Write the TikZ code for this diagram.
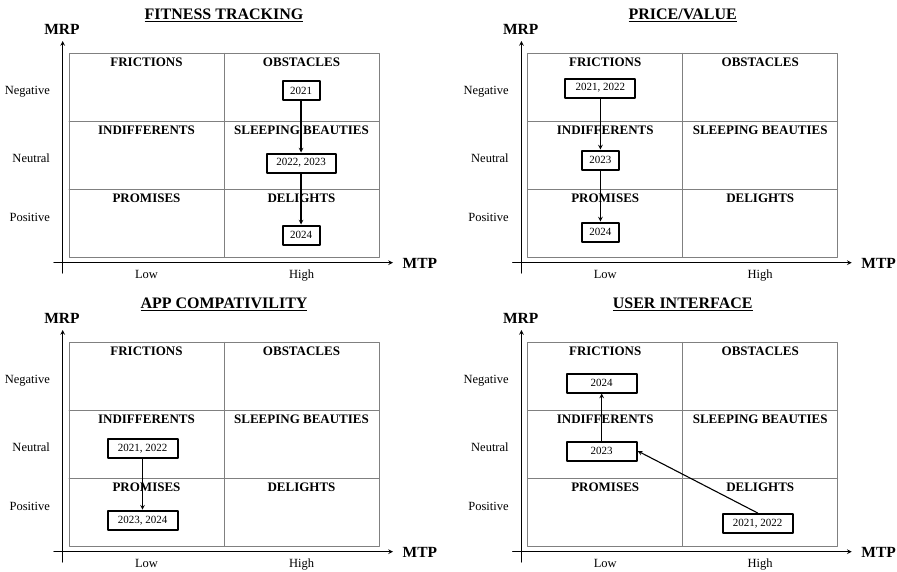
\documentclass[tikz,border=0pt]{standalone}
\usepackage{fontspec}
\setmainfont{Liberation Serif}
\usetikzlibrary{positioning}
% one MRP/MTP quadrant panel: #1 prefix, #2/#3 top left of the grid, #4 title
\newcommand{\quadpanel}[4]{%
	\begin{scope}[shift={(#2,#3)}]
		\draw[gridline] (0,0) rectangle (310,204);
		\draw[gridline] (155,0) -- (155,204) (0,68) -- (310,68) (0,136) -- (310,136);
		\draw[axis] (-6.3,219.7) -- (-6.3,-12.3);
		\draw[axis] (-15,209.4) -- (324,209.4);
		\node[titlelabel] (#1title) at (155,-38) {\underline{#4}};
		\node[axislabel] (#1mrp) at (-7,-24) {MRP};
		\node[axislabel, anchor=west, inner xsep=0pt] (#1mtp) at (333.5,210) {MTP};
		\foreach \lab/\yy [count=\i] in {Negative/41, Neutral/108.7, Positive/167.7}
			\node[sidelabel, anchor=base east] (#1row\i) at (-15.5,\yy) {\lab};
		\foreach \lab/\xx [count=\i] in {Low/77.5, High/232.5}
			\node[sidelabel, anchor=base] (#1col\i) at (\xx,225) {\lab};
		\foreach \lab/\xx/\yy [count=\i] in {FRICTIONS/77.5/13.4, OBSTACLES/232.5/13.4,
				INDIFFERENTS/77.5/81.4, SLEEPING BEAUTIES/232.5/81.4,
				PROMISES/77.5/149.2, DELIGHTS/232.5/149.2}
			\node[quadlabel, anchor=base] (#1q\i) at (\xx,\yy) {\lab};
	\end{scope}}
\begin{document}
\begin{tikzpicture}[x=1pt, y=-1pt, line cap=round, line join=round, >=stealth]
	\tikzset{gridline/.style={draw=black!50, line width=0.8pt},
		axis/.style={->, line width=1.1pt},
		titlelabel/.style={font=\fontsize{16}{18}\selectfont\bfseries},
		axislabel/.style={font=\fontsize{15.5}{18}\selectfont\bfseries},
		sidelabel/.style={font=\fontsize{12.5}{14}\selectfont},
		quadlabel/.style={font=\fontsize{13}{15}\selectfont\bfseries},
		yearbox/.style={draw, line width=2pt, fill=white, minimum height=19, inner xsep=7.5pt, font=\fontsize{11}{13}\selectfont},
		move/.style={->, line width=1.1pt}}
	\useasboundingbox (0,0) rectangle (897,571);
	\quadpanel{ft}{69}{53.3}{FITNESS TRACKING}
	\quadpanel{pv}{527.7}{53.3}{PRICE/VALUE}
	\quadpanel{ac}{69}{342.3}{APP COMPATIVILITY}
	\quadpanel{ui}{527.7}{342.3}{USER INTERFACE}
	% fitness tracking
	\begin{scope}[shift={(69,53.3)}]
		\node[yearbox] (ft1) at (232,37.2) {2021};
		\node[yearbox, minimum width=69] (ft2) at (232,109.7) {2022, 2023};
		\node[yearbox] (ft3) at (232,181.7) {2024};
		\draw[move] (ft1) -- (ft2);
		\draw[move] (ft2) -- (ft3);
	\end{scope}
	% price/value
	\begin{scope}[shift={(527.7,53.3)}]
		\node[yearbox, minimum width=70] (pv1) at (72.7,34.7) {2021, 2022};
		\node[yearbox] (pv2) at (72.7,106.7) {2023};
		\node[yearbox] (pv3) at (72.7,178.7) {2024};
		\draw[move] (pv1) -- (pv2);
		\draw[move] (pv2) -- (pv3);
	\end{scope}
	% app compativility
	\begin{scope}[shift={(69,342.3)}]
		\node[yearbox, minimum width=70] (ac1) at (73.5,106) {2021, 2022};
		\node[yearbox, minimum width=70] (ac2) at (73.5,177.9) {2023, 2024};
		\draw[move] (ac1) -- (ac2);
	\end{scope}
	% user interface
	\begin{scope}[shift={(527.7,342.3)}]
		\node[yearbox, minimum width=70] (ui1) at (230,181.2) {2021, 2022};
		\node[yearbox, minimum width=70] (ui2) at (74,108.7) {2023};
		\node[yearbox, minimum width=70] (ui3) at (74,40.7) {2024};
		\draw[move] (ui1.north) -- (ui2.east);
		\draw[move] (ui2) -- (ui3);
	\end{scope}
\end{tikzpicture}
\end{document}
